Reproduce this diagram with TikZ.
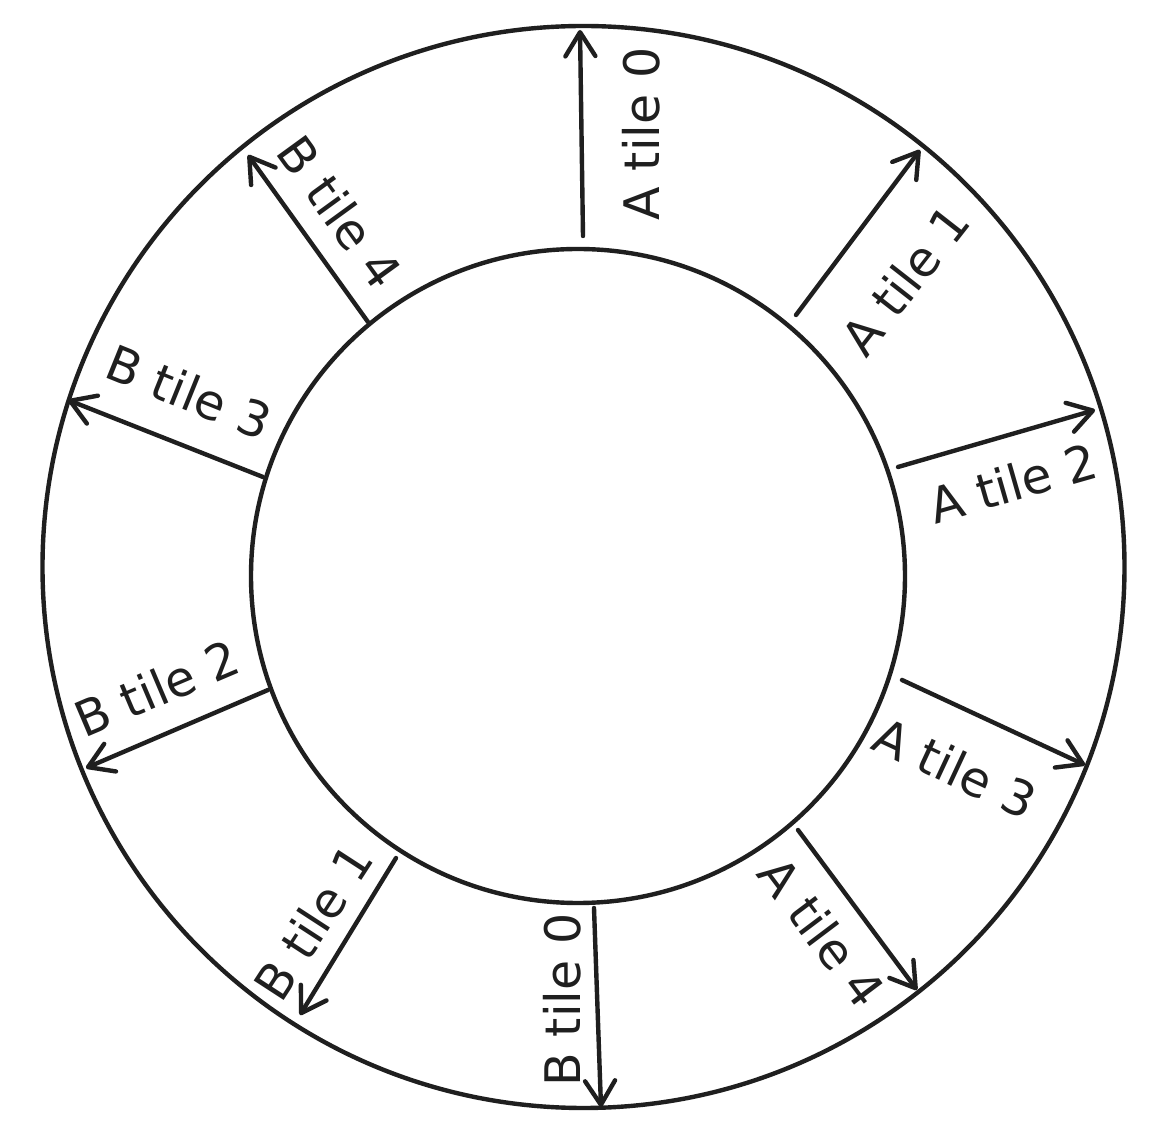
\documentclass[tikz,border=0pt]{standalone}
\usepackage{fontspec}
\setmainfont{DejaVu Sans}
\usetikzlibrary{arrows.meta}
\begin{document}
\begin{tikzpicture}[x=0.5pt,y=-0.5pt,
  ring/.style={circle,draw=black!88,line width=2.2pt,inner sep=0pt,outer sep=0pt},
  tilearrow/.style={draw=black!88,line width=2.2pt,line cap=round,
    -{Straight Barb[length=12pt,width=15pt,line width=2.2pt,round]}},
  tilelabel/.style={font=\fontsize{24.5}{29}\selectfont,text=black!88,inner sep=0pt}]
\useasboundingbox (0,0) rectangle (1164,1138);
\fill[white] (0,0) rectangle (1164,1138);
\node[ring,minimum size=541pt] (outer) at (583.5,567) {};
\node[ring,minimum size=327pt] (inner) at (578,576) {};
% arrow end points
\coordinate (a0s) at (583,236);  \coordinate (a0e) at (580,30);
\coordinate (a1s) at (796,315);  \coordinate (a1e) at (920,150);
\coordinate (a2s) at (898,467);  \coordinate (a2e) at (1095,410);
\coordinate (a3s) at (902,680);  \coordinate (a3e) at (1085,765);
\coordinate (a4s) at (798,830);  \coordinate (a4e) at (917,990);
\coordinate (b0s) at (594,908);  \coordinate (b0e) at (601,1107);
\coordinate (b1s) at (396,858);  \coordinate (b1e) at (300,1015);
\coordinate (b2s) at (268,690);  \coordinate (b2e) at (86,768);
\coordinate (b3s) at (263,477);  \coordinate (b3e) at (68,400);
\coordinate (b4s) at (368,322);  \coordinate (b4e) at (248,155);
\foreach \n in {a0,a1,a2,a3,a4,b0,b1,b2,b3,b4}
  \draw[tilearrow] (\n s) -- (\n e);
% labels
\node[tilelabel,rotate=90]  (la0) at (641,134) {A tile 0};
\node[tilelabel,rotate=52]  (la1) at (905,280) {A tile 1};
\node[tilelabel,rotate=16]  (la2) at (1013,483) {A tile 2};
\node[tilelabel,rotate=-25] (la3) at (955,768) {A tile 3};
\node[tilelabel,rotate=-53] (la4) at (822,932) {A tile 4};
\node[tilelabel,rotate=90]  (lb0) at (562,1000) {B tile 0};
\node[tilelabel,rotate=57]  (lb1) at (313,922) {B tile 1};
\node[tilelabel,rotate=23]  (lb2) at (157,688) {B tile 2};
\node[tilelabel,rotate=-22] (lb3) at (189,392) {B tile 3};
\node[tilelabel,rotate=-54] (lb4) at (340,212) {B tile 4};
\end{tikzpicture}
\end{document}
